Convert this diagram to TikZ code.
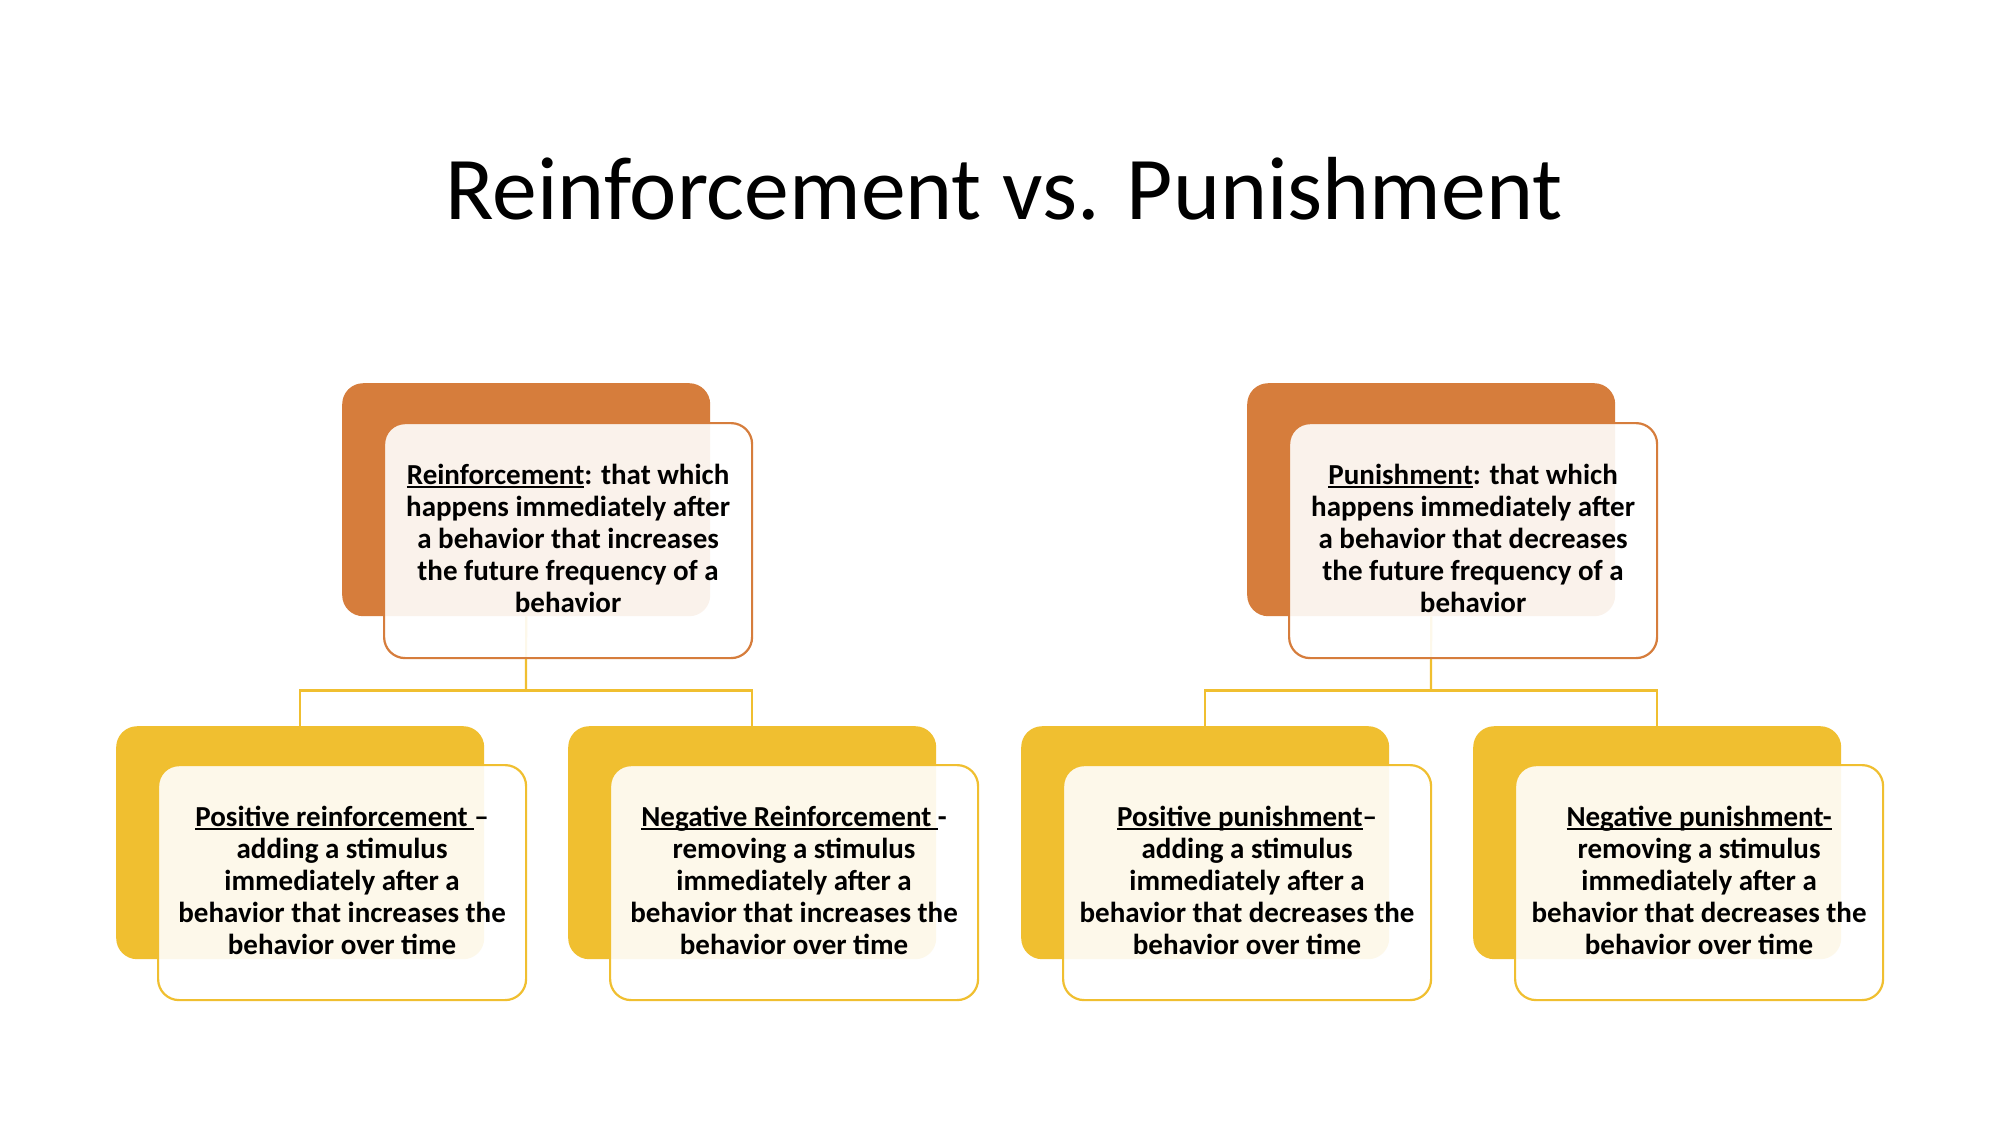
\documentclass[tikz,border=0pt]{standalone}
\usepackage{fontspec}
\setmainfont{Carlito}
\definecolor{orangeC}{HTML}{D67D3C}
\definecolor{yellowC}{HTML}{F0BF30}
\newcommand{\myul}[1]{\leavevmode\setbox0=\hbox{#1}\rlap{\raisebox{-3.6pt}{\rule{\wd0}{1.9pt}}}\box0}
\tikzset{
  backbox/.style={anchor=north west, minimum width=368pt, minimum height=233pt, rounded corners=21pt, inner sep=0pt},
  frontbox/.style={anchor=north west, minimum width=368pt, minimum height=235pt, rounded corners=21pt, inner sep=0pt,
     fill=white, fill opacity=0.9, text opacity=1, line width=2.2pt},
  boxtext/.style={align=center, font=\fontsize{29}{32}\selectfont\bfseries, yshift=2pt},
  conn/.style={draw=yellowC, line width=2.2pt},
}
\begin{document}
\begin{tikzpicture}[x=1pt,y=-1pt]
\useasboundingbox[fill=white] (0,0) rectangle (2000,1125);
\node[font=\fontsize{89.6}{100}\selectfont, anchor=base] (title) at (1004,219) {Reinforcement vs. Punishment};

% back boxes
\node[backbox, fill=orangeC] (rb) at (342,383) {};
\node[backbox, fill=orangeC] (pb) at (1247,383) {};
\node[backbox, fill=yellowC] (prb) at (116,726) {};
\node[backbox, fill=yellowC] (nrb) at (568,726) {};
\node[backbox, fill=yellowC] (ppb) at (1021,726) {};
\node[backbox, fill=yellowC] (npb) at (1473,726) {};

% connectors
\coordinate (j1) at (526,690.5);
\coordinate (j2) at (1431,690.5);
\draw[conn] (rb.south) -- (j1);
\draw[conn] (prb.north) |- (j1) -| (nrb.north);
\draw[conn] (pb.south) -- (j2);
\draw[conn] (ppb.north) |- (j2) -| (npb.north);

% front boxes
\node[frontbox, draw=orangeC] (rf) at (383,422) {};
\node[frontbox, draw=orangeC] (pf) at (1288,422) {};
\node[frontbox, draw=yellowC] (prf) at (157,764) {};
\node[frontbox, draw=yellowC] (nrf) at (609,764) {};
\node[frontbox, draw=yellowC] (ppf) at (1062,764) {};
\node[frontbox, draw=yellowC] (npf) at (1514,764) {};

% texts
\node[boxtext] (rt) at (rf.center) {\myul{Reinforcement}: that which\\happens immediately after\\a behavior that increases\\the future frequency of a\\behavior};
\node[boxtext] (pt) at (pf.center) {\myul{Punishment}: that which\\happens immediately after\\a behavior that decreases\\the future frequency of a\\behavior};
\node[boxtext] (prt) at (prf.center) {\myul{Positive reinforcement }–\\adding a stimulus\\immediately after a\\behavior that increases the\\behavior over time};
\node[boxtext] (nrt) at (nrf.center) {\myul{Negative Reinforcement }-\\removing a stimulus\\immediately after a\\behavior that increases the\\behavior over time};
\node[boxtext] (ppt) at (ppf.center) {\myul{Positive punishment}–\\adding a stimulus\\immediately after a\\behavior that decreases the\\behavior over time};
\node[boxtext] (npt) at (npf.center) {\myul{Negative punishment-}\\removing a stimulus\\immediately after a\\behavior that decreases the\\behavior over time};
\end{tikzpicture}
\end{document}
